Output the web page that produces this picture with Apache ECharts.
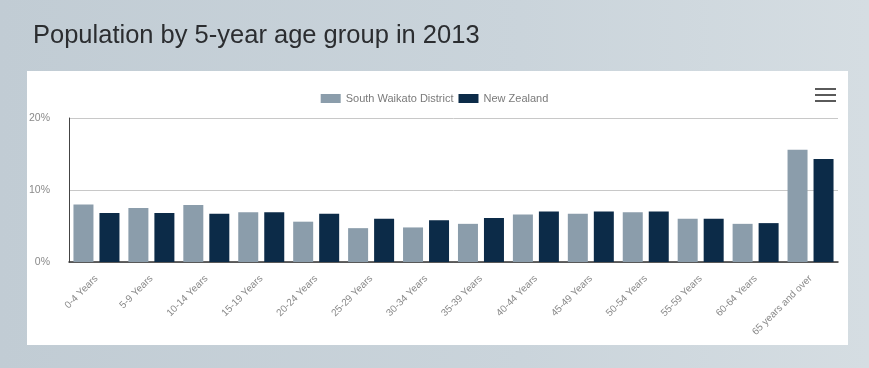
<!DOCTYPE html>
<html>
<head>
<meta charset="utf-8">
<script src="https://cdn.jsdelivr.net/npm/echarts@6/dist/echarts.min.js"></script>
<style>
  html, body { margin: 0; padding: 0; background: #c9d4db; }
  #chart { width: 869px; height: 368px; }
</style>
</head>
<body>
<div id="chart"></div>
<script>
// Age groups and share of population (%) per group, 2013
const ageGroups = [
  '0-4 Years', '5-9 Years', '10-14 Years', '15-19 Years', '20-24 Years',
  '25-29 Years', '30-34 Years', '35-39 Years', '40-44 Years', '45-49 Years',
  '50-54 Years', '55-59 Years', '60-64 Years', '65 years and over'
];
const southWaikato = [8.0, 7.5, 7.9, 6.9, 5.6, 4.7, 4.8, 5.3, 6.6, 6.7, 6.9, 6.0, 5.3, 15.6];
const newZealand   = [6.8, 6.8, 6.7, 6.9, 6.7, 6.0, 5.8, 6.1, 7.0, 7.0, 7.0, 6.0, 5.4, 14.3];
const yTicks = { min: 0, max: 20, interval: 10 };

const chart = echarts.init(document.getElementById('chart'), null, { renderer: 'canvas' });

chart.setOption({
  backgroundColor: {
    type: 'linear', x: 0, y: 0, x2: 1, y2: 0,
    colorStops: [
      { offset: 0, color: '#c1ccd4' },
      { offset: 0.6, color: '#cad4db' },
      { offset: 1, color: '#d5dde2' }
    ]
  },
  animation: false,
  graphic: [
    { type: 'rect', z: -10, shape: { x: 27, y: 71, width: 821, height: 274 },
      style: { fill: '#ffffff' } },
    // menu button
    { type: 'rect', shape: { x: 815, y: 88, width: 21, height: 2 }, style: { fill: '#5a5a5a' } },
    { type: 'rect', shape: { x: 815, y: 94, width: 21, height: 2 }, style: { fill: '#5a5a5a' } },
    { type: 'rect', shape: { x: 815, y: 100, width: 21, height: 2 }, style: { fill: '#5a5a5a' } }
  ],
  title: {
    text: 'Population by 5-year age group in 2013',
    left: 28, top: 18,
    textStyle: { fontFamily: 'Liberation Sans', fontSize: 25.5, fontWeight: 'normal', color: '#2b2d30' }
  },
  legend: {
    top: 88, left: 'center',
    itemWidth: 20, itemHeight: 9, itemGap: 5,
    icon: 'rect',
    textStyle: { fontFamily: 'Liberation Sans', fontSize: 11, color: '#7a7a7a' },
    data: ['South Waikato District', 'New Zealand']
  },
  grid: { left: 69, right: 31, top: 118, bottom: 106, containLabel: false },
  xAxis: {
    type: 'category',
    data: ageGroups,
    axisLine: { lineStyle: { color: '#333', width: 1.5 } },
    axisTick: { alignWithLabel: true, length: 5, lineStyle: { color: '#333', width: 1 } },
    axisLabel: { rotate: 45, margin: 15, fontSize: 10, color: '#8a8a8a', fontFamily: 'Liberation Sans', interval: 0 }
  },
  yAxis: {
    type: 'value',
    min: yTicks.min, max: yTicks.max, interval: yTicks.interval,
    axisLine: { show: true, lineStyle: { color: '#444' } },
    axisTick: { show: false },
    axisLabel: { formatter: '{value}%', margin: 19, fontSize: 10.5, color: '#8a8a8a', fontFamily: 'Liberation Sans' },
    splitLine: { lineStyle: { color: '#c8c8c8' } }
  },
  series: [
    { name: 'South Waikato District', type: 'bar', data: southWaikato,
      barWidth: 20, barGap: '30%', itemStyle: { color: '#8b9dab' } },
    { name: 'New Zealand', type: 'bar', data: newZealand,
      barWidth: 20, itemStyle: { color: '#0c2b48' } }
  ]
});
</script>
</body>
</html>
